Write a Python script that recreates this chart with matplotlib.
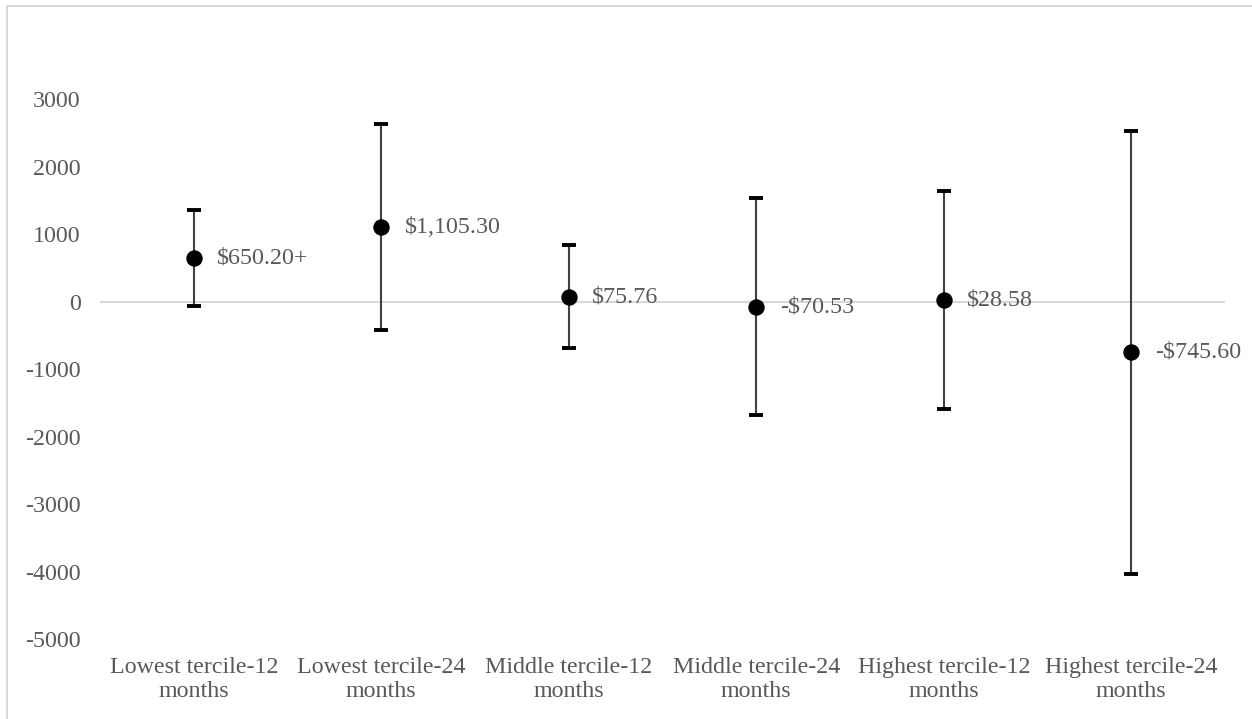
import matplotlib
matplotlib.use("Agg")
import matplotlib.pyplot as plt
from matplotlib.patches import Rectangle

categories = ["Lowest tercile-12\nmonths", "Lowest tercile-24\nmonths",
              "Middle tercile-12\nmonths", "Middle tercile-24\nmonths",
              "Highest tercile-12\nmonths", "Highest tercile-24\nmonths"]
means = [650.20, 1105.30, 75.76, -70.53, 28.58, -745.60]
lower = [-55, -420, -687, -1675, -1590, -4026]
upper = [1355, 2630, 839, 1534, 1647, 2534]
point_labels = ["$650.20+", "$1,105.30", "$75.76", "-$70.53", "$28.58", "-$745.60"]
yticks = [3000, 2000, 1000, 0, -1000, -2000, -3000, -4000, -5000]

plt.rcParams['text.parse_math'] = False
plt.rcParams['font.family'] = ['Liberation Serif', 'DejaVu Serif']

W, H = 1252, 719
fig = plt.figure(figsize=(W / 100, H / 100), dpi=100)
fig.patch.set_facecolor('white')

# outer chart border (light grey)
fig.add_artist(Rectangle((7 / W, -0.1), 1.2, 1 - 6 / H + 0.1, transform=fig.transFigure,
                         fill=False, edgecolor='#d9d9d9', linewidth=1.5))

ax = fig.add_axes([100 / W, 1 - 639.3 / H, 1125 / W, (639.3 - 31.8) / H])
x = list(range(len(categories)))
yerr = [[m - lo for m, lo in zip(means, lower)], [up - m for m, up in zip(means, upper)]]

ax.axhline(0, color='#d9d9d9', linewidth=1.5, zorder=1)
eb = ax.errorbar(x, means, yerr=yerr, fmt='o', color='black', markersize=10.8,
                 ecolor='#404040', elinewidth=1.5, capsize=5, capthick=2.8, zorder=3)
for cap in eb[1]:
    cap.set_color('black')
    cap.set_markeredgecolor('black')
    cap.set_markerfacecolor('black')

gray = '#595959'
for xi, m, lab in zip(x, means, point_labels):
    ax.annotate(lab, (xi, m), xytext=(17, 0), textcoords='offset points',
                ha='left', va='center', fontsize=17.3, color=gray)

ax.set_xlim(-0.5, len(categories) - 0.5)
ax.set_ylim(-5000, 4000)
ax.set_yticks(yticks)
ax.set_yticklabels([str(t) for t in yticks])
ax.set_xticks(x)
ax.set_xticklabels(categories, multialignment='center', linespacing=1.15)
ax.tick_params(axis='y', length=0, pad=14, labelsize=17.3, labelcolor=gray)
ax.tick_params(axis='x', length=0, pad=13, labelsize=17.3, labelcolor=gray)
for s in ax.spines.values():
    s.set_visible(False)
ax.patch.set_alpha(0)

fig.savefig("out.png", dpi=100, facecolor='white')
